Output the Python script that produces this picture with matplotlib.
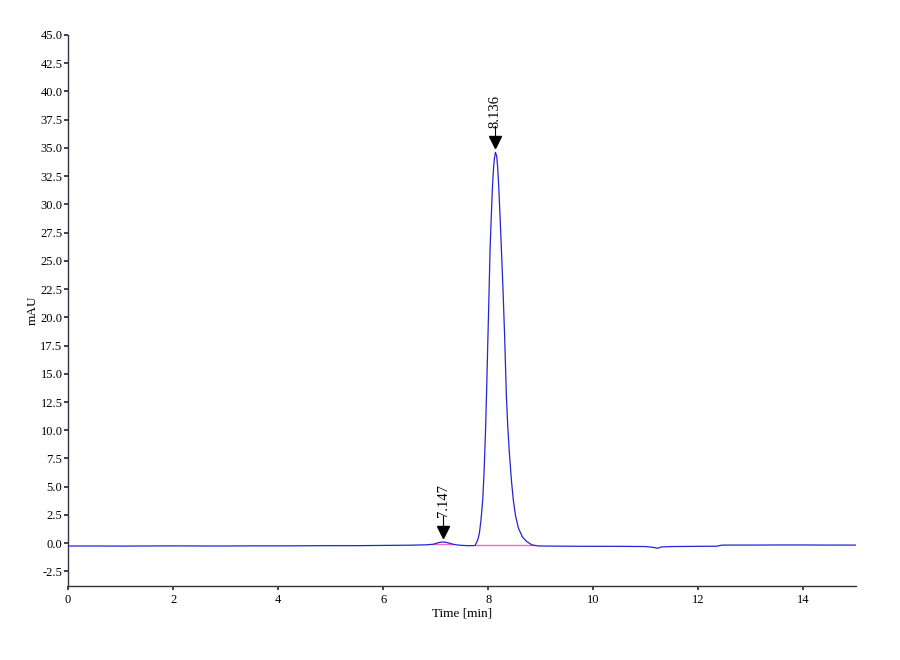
import matplotlib
matplotlib.use("Agg")
import matplotlib.pyplot as plt

# --- data ---
time_min = [0.0, 0.5, 1.0, 1.5, 2.0, 2.5, 3.0, 3.5, 4.0, 4.5, 5.0, 5.5, 6.0, 6.5, 6.8,
            6.95, 7.02, 7.08, 7.147, 7.2, 7.26, 7.33, 7.45, 7.6, 7.7,
            7.75, 7.80, 7.83, 7.86, 7.894, 7.92, 7.95, 7.97, 7.99, 8.01, 8.034, 8.06,
            8.08, 8.10, 8.115, 8.136,
            8.16, 8.18, 8.20, 8.237, 8.28, 8.31, 8.345, 8.37, 8.401, 8.44, 8.477, 8.52,
            8.572, 8.65, 8.73, 8.83, 8.95, 9.5, 10.0, 10.5, 11.0, 11.15, 11.22,
            11.3, 11.5, 12.0, 12.35, 12.45, 13.0, 13.5, 14.0, 14.5, 15.0]
signal_mau = [-0.25, -0.25, -0.26, -0.25, -0.24, -0.25, -0.25, -0.24, -0.24, -0.23, -0.22,
              -0.22, -0.2, -0.18, -0.15,
              -0.1, 0.0, 0.08, 0.1, 0.07, 0.0, -0.1, -0.18, -0.22, -0.22,
              -0.2, 0.3, 0.86, 2.0, 3.8, 6.3, 10.3, 13.8, 17.6, 21.3, 26.0, 29.3,
              31.6, 33.2, 34.0, 34.6,
              34.3, 33.2, 31.5, 27.5, 22.5, 18.5, 13.0, 10.4, 8.0, 5.6, 3.8, 2.4,
              1.35, 0.55, 0.15, -0.15, -0.25, -0.27, -0.28, -0.28, -0.3, -0.38, -0.45,
              -0.33, -0.3, -0.28, -0.27, -0.17, -0.17, -0.16, -0.16, -0.17, -0.17]

peak_times = [7.147, 8.136]
peak_labels = ["7.147", "8.136"]
peak_heights = [0.1, 34.6]

base_segments = [(6.95, 7.33, -0.1, -0.1), (7.75, 8.85, -0.2, -0.2)]

x_ticks = [0, 2, 4, 6, 8, 10, 12, 14]
y_ticks = [-2.5, 0.0, 2.5, 5.0, 7.5, 10.0, 12.5, 15.0, 17.5, 20.0, 22.5, 25.0,
           27.5, 30.0, 32.5, 35.0, 37.5, 40.0, 42.5, 45.0]

plt.rcParams['font.family'] = ['Liberation Serif', 'DejaVu Serif']

fig = plt.figure(figsize=(9, 6.6), dpi=100)
ax = fig.add_axes([0.0756, 0.112, 0.8755, 0.835])

for x0, x1, y0, y1 in base_segments:
    ax.plot([x0, x1], [y0, y1], color='#ff66cc', lw=1.0, zorder=2)

ax.plot(time_min, signal_mau, color='#2424d4', lw=0.9, zorder=3)

for t, lab, h in zip(peak_times, peak_labels, peak_heights):
    tip = h + 0.3
    ax.plot([t], [tip + 0.6], marker='v', color='black', markersize=9, zorder=4,
            linestyle='none')
    ax.plot([t, t], [tip + 0.6, tip + 2.0], color='black', lw=0.8, zorder=4)
    ax.text(t, tip + 1.9, lab, rotation=90, ha='center', va='bottom',
            fontsize=10.5, zorder=5)

ax.set_xlim(0, 15)
ax.set_ylim(-3.8, 45)
ax.set_xticks(x_ticks)
ax.set_xticklabels([str(v) for v in x_ticks])
ax.set_yticks(y_ticks)
ax.set_yticklabels([f"{v:.1f}" for v in y_ticks])
ax.tick_params(axis='both', labelsize=9, length=3, width=1.3, direction='out',
               pad=1, color='#333344')
ax.tick_params(axis='x', pad=3)
for s in ['top', 'right']:
    ax.spines[s].set_visible(False)
for s in ['left', 'bottom']:
    ax.spines[s].set_linewidth(1.0)
    ax.spines[s].set_color('#333344')

ax.set_xlabel('Time [min]', fontsize=9.5, labelpad=1)
ax.set_ylabel('mAU', fontsize=9.5, labelpad=1)

fig.savefig('out.png', dpi=100)
